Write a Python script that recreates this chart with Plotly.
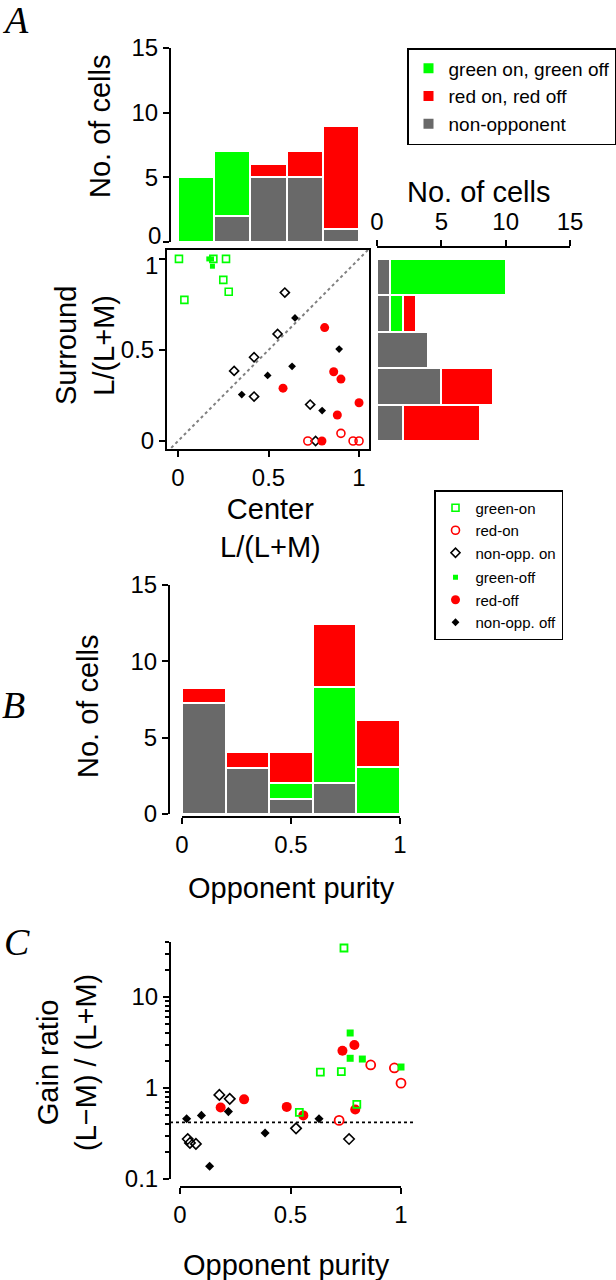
import plotly.graph_objects as go

# ---------------- data ----------------
bin_centers = [0.1, 0.3, 0.5, 0.7, 0.9]
bin_width = 0.2

# Panel A, top histogram (center L/(L+M))
topA_gray = [0, 2, 5, 5, 1]
topA_green = [5, 5, 0, 0, 0]
topA_red = [0, 0, 1, 2, 8]

# Panel A, right histogram (surround L/(L+M)), bins from 0-0.2 up to 0.8-1
rightA_gray = [2, 5, 4, 1, 1]
rightA_green = [0, 0, 0, 1, 9]
rightA_red = [6, 4, 0, 1, 0]

# Panel A scatter (center, surround)
a_green_on_x = [0.005, 0.035, 0.195, 0.265, 0.25, 0.28]
a_green_on_y = [1.0, 0.775, 1.0, 1.0, 0.885, 0.82]
a_green_off_x = [0.17, 0.185, 0.19]
a_green_off_y = [1.0, 1.0, 0.96]
a_red_on_x = [0.717, 0.90, 0.967, 1.0]
a_red_on_y = [0.0, 0.042, 0.0, 0.0]
a_red_off_x = [0.81, 0.58, 0.86, 0.90, 1.0, 0.88, 0.795]
a_red_off_y = [0.623, 0.29, 0.38, 0.34, 0.21, 0.143, 0.0]
a_non_on_x = [0.59, 0.55, 0.42, 0.31, 0.42, 0.73, 0.76]
a_non_on_y = [0.815, 0.588, 0.46, 0.385, 0.244, 0.2, 0.0]
a_non_off_x = [0.646, 0.89, 0.63, 0.495, 0.352, 0.796]
a_non_off_y = [0.676, 0.505, 0.41, 0.36, 0.255, 0.167]

# Panel B histogram (opponent purity)
B_gray = [7.25, 3.0, 1.0, 2.0, 0]
B_green = [0, 0, 1.0, 6.3, 3.05]
B_red = [1.0, 1.05, 2.05, 4.15, 3.1]

# Panel C scatter (opponent purity, gain ratio)
c_non_off_x = [0.03, 0.097, 0.134, 0.219, 0.385, 0.629]
c_non_off_y = [0.46, 0.50, 0.138, 0.55, 0.32, 0.46]
c_non_on_x = [0.035, 0.045, 0.072, 0.178, 0.225, 0.525, 0.765]
c_non_on_y = [0.275, 0.249, 0.243, 0.84, 0.76, 0.36, 0.275]
c_red_off_x = [0.184, 0.29, 0.483, 0.558, 0.735, 0.789, 0.793]
c_red_off_y = [0.61, 0.75, 0.62, 0.50, 2.57, 2.97, 0.58]
c_red_on_x = [0.72, 0.863, 0.97, 1.0]
c_red_on_y = [0.44, 1.79, 1.66, 1.13]
c_green_on_x = [0.742, 0.635, 0.73, 0.54, 0.80]
c_green_on_y = [34.5, 1.49, 1.51, 0.54, 0.66]
c_green_off_x = [0.77, 0.77, 0.825, 1.0]
c_green_off_y = [4.02, 2.12, 2.08, 1.70]
c_reference_level = 0.42

count_ticks = [0, 5, 10, 15]
unit_ticks = [0, 0.5, 1]
unit_ticktext = ["0", "0.5", "1"]

# ---------------- styling ----------------
W, H = 616, 1280
GREEN = "#00ff00"
RED = "#ff0000"
GRAY = "#696969"
FONT = "Liberation Sans, Arial, Helvetica, sans-serif"
SERIF = "Liberation Serif, Times New Roman, serif"
TICKF = dict(family=FONT, size=24, color="black")


def X(px):
    return px / W


def Y(py):
    return 1 - py / H


fig = go.Figure()

bar_line = dict(color="white", width=2)

# top histogram A (x, y)
for name, vals, col, rank in [("non-opponent", topA_gray, GRAY, 3),
                              ("green on, green off", topA_green, GREEN, 1),
                              ("red on, red off", topA_red, RED, 2)]:
    fig.add_trace(go.Bar(x=bin_centers, y=vals, width=bin_width, name=name,
                         marker=dict(color=col, line=bar_line),
                         xaxis="x", yaxis="y", legend="legend",
                         legendrank=rank, showlegend=True, legendgroup=name))

# right histogram A (x3, y3)
for name, vals, col in [("non-opponent", rightA_gray, GRAY),
                        ("green on, green off", rightA_green, GREEN),
                        ("red on, red off", rightA_red, RED)]:
    fig.add_trace(go.Bar(y=bin_centers, x=vals, width=bin_width, orientation="h",
                         name=name, marker=dict(color=col, line=bar_line),
                         xaxis="x3", yaxis="y3", showlegend=False, legendgroup=name))

# panel B histogram (x4, y4)
for name, vals, col in [("non-opponent", B_gray, GRAY),
                        ("green on, green off", B_green, GREEN),
                        ("red on, red off", B_red, RED)]:
    fig.add_trace(go.Bar(x=bin_centers, y=vals, width=bin_width, name=name,
                         marker=dict(color=col, line=bar_line),
                         xaxis="x4", yaxis="y4", showlegend=False, legendgroup=name))

# scatter A (x2, y2)
a_specs = [
    ("non-opp. off", a_non_off_x, a_non_off_y, dict(symbol="diamond", size=6, color="black"), 6, "off"),
    ("non-opp. on", a_non_on_x, a_non_on_y,
     dict(symbol="diamond-open", size=7, color="black", line=dict(width=1.6)), 3, "on"),
    ("red-off", a_red_off_x, a_red_off_y, dict(symbol="circle", size=9, color=RED), 5, "off"),
    ("red-on", a_red_on_x, a_red_on_y,
     dict(symbol="circle-open", size=8, color=RED, line=dict(width=1.6)), 2, "on"),
    ("green-on", a_green_on_x, a_green_on_y,
     dict(symbol="square-open", size=7, color=GREEN, line=dict(width=1.6)), 1, "on"),
    ("green-off", a_green_off_x, a_green_off_y, dict(symbol="square", size=5, color=GREEN), 4, "off"),
]
for name, xs, ys, mk, rank, grp in a_specs:
    fig.add_trace(go.Scatter(x=xs, y=ys, mode="markers", name=name, marker=mk,
                             xaxis="x2", yaxis="y2", legend="legend2",
                             legendrank=rank, legendgroup=grp, showlegend=True,
                             cliponaxis=False))

# scatter C (x5, y5)
c_specs = [
    (c_non_off_x, c_non_off_y, dict(symbol="diamond", size=7, color="black")),
    (c_non_on_x, c_non_on_y, dict(symbol="diamond-open", size=8, color="black", line=dict(width=1.6))),
    (c_red_off_x, c_red_off_y, dict(symbol="circle", size=10, color=RED)),
    (c_red_on_x, c_red_on_y, dict(symbol="circle-open", size=9, color=RED, line=dict(width=1.8))),
    (c_green_off_x, c_green_off_y, dict(symbol="square", size=7, color=GREEN)),
    (c_green_on_x, c_green_on_y, dict(symbol="square-open", size=7, color=GREEN, line=dict(width=1.8))),
]
for xs, ys, mk in c_specs:
    fig.add_trace(go.Scatter(x=xs, y=ys, mode="markers", marker=mk,
                             xaxis="x5", yaxis="y5", showlegend=False, cliponaxis=False))

axis_common = dict(showline=True, linecolor="black", linewidth=2, ticks="outside",
                   tickcolor="black", tickwidth=2, ticklen=6, tickfont=TICKF,
                   showgrid=False, zeroline=False, automargin=False)

a_xrange = [-0.061, 1.055]
a_yrange = [-0.044, 1.049]

# the two crowded labels (top-hist "0" and scatter "1") are nudged apart, as in the figure
top_ticktext = [""] + [str(v) for v in count_ticks[1:]]
scatter_y_ticktext = unit_ticktext[:-1] + [""]

fig.update_layout(
    template="none",
    width=W, height=H, margin=dict(l=0, r=0, t=0, b=0, pad=0, autoexpand=False),
    paper_bgcolor="white", plot_bgcolor="rgba(0,0,0,0)",
    barmode="stack", bargap=0,
    font=dict(family=FONT, color="black"),
    # top histogram
    xaxis=dict(domain=[X(178), X(359)], range=[0, 1], visible=False, anchor="y",
               automargin=False),
    yaxis=dict(domain=[Y(242), Y(48)], range=[0, 15], anchor="free", position=X(170),
               tickvals=count_ticks, ticktext=top_ticktext, **axis_common),
    # scatter A
    xaxis2=dict(domain=[X(167), X(369)], range=a_xrange, anchor="y2", mirror=True,
                tickvals=unit_ticks, ticktext=unit_ticktext, **axis_common),
    yaxis2=dict(domain=[Y(449), Y(250)], range=a_yrange, anchor="x2", mirror=True,
                tickvals=unit_ticks, ticktext=scatter_y_ticktext, **axis_common),
    # right histogram
    xaxis3=dict(domain=[X(377), X(570)], range=[0, 15], side="top", anchor="free",
                position=Y(247), tickvals=count_ticks, **axis_common),
    yaxis3=dict(domain=[Y(449), Y(250)], range=a_yrange, visible=False, anchor="x3",
                automargin=False),
    # panel B
    xaxis4=dict(domain=[X(182), X(400)], range=[0, 1], anchor="free", position=Y(817),
                tickvals=unit_ticks, ticktext=unit_ticktext, **axis_common),
    yaxis4=dict(domain=[Y(814), Y(585)], range=[0, 15], anchor="free", position=X(169),
                tickvals=count_ticks, **axis_common),
    # panel C
    xaxis5=dict(domain=[X(180), X(401)], range=[0, 1], anchor="free", position=Y(1187),
                tickvals=unit_ticks, ticktext=unit_ticktext, **axis_common),
    yaxis5=dict(domain=[Y(1179), Y(942)], type="log", range=[-1, 1.604], anchor="free",
                position=X(170), tickvals=[0.1, 1, 10], ticktext=["0.1", "1", "10"],
                minor=dict(ticks="outside", ticklen=4, tickcolor="black", tickwidth=1.5,
                           tickvals=[0.2, 0.3, 0.4, 0.5, 0.6, 0.7, 0.8, 0.9,
                                     2, 3, 4, 5, 6, 7, 8, 9, 20, 30, 40],
                           showgrid=False),
                **axis_common),
    legend=dict(x=X(407), y=Y(48), xanchor="left", yanchor="top",
                bordercolor="black", borderwidth=1.5, bgcolor="white",
                font=dict(family=FONT, size=19, color="black"),
                traceorder="normal", itemwidth=30),
    legend2=dict(x=X(434), y=Y(490), xanchor="left", yanchor="top",
                 bordercolor="black", borderwidth=1.5, bgcolor="white",
                 font=dict(family=FONT, size=15, color="black"),
                 traceorder="grouped", tracegroupgap=2, itemwidth=30),
)

# reference lines
fig.add_shape(type="line", xref="x2", yref="y2", x0=a_xrange[0], y0=a_xrange[0],
              x1=a_yrange[1], y1=a_yrange[1],
              line=dict(color="#808080", width=2, dash="dot"), layer="below")
fig.add_shape(type="line", xref="paper", yref="y5", x0=X(170), x1=X(413),
              y0=c_reference_level, y1=c_reference_level,
              line=dict(color="black", width=1.8, dash="dot"), layer="below")

TITLEF = dict(family=FONT, size=29, color="black")


def ann(text, px, py, angle=0, font=TITLEF, xanchor="center", yanchor="middle"):
    fig.add_annotation(text=text, x=X(px), y=Y(py), xref="paper", yref="paper",
                       showarrow=False, textangle=angle, font=font,
                       xanchor=xanchor, yanchor=yanchor)


# nudged tick labels
ann(str(count_ticks[0]), 163, 236, font=TICKF, xanchor="right")
ann(unit_ticktext[-1], 160, 265, font=TICKF, xanchor="right")

ann("No. of cells", 100, 127, -90)
ann("No. of cells", 478, 192)
ann("Surround<br>L/(L+M)", 85, 346, -90)
ann("Center<br>L/(L+M)", 270, 528)
ann("No. of cells", 88, 707, -90)
ann("Opponent purity", 291, 888)
ann("Gain ratio<br>(L\u2212M) / (L+M)", 67, 1063, -90)
ann("Opponent purity", 286, 1265)

PANELF = dict(family=SERIF, size=38, color="black")
ann("<i>A</i>", 0, 20, font=PANELF, xanchor="left")
ann("<i>B</i>", 0, 705, font=PANELF, xanchor="left")
ann("<i>C</i>", 2, 942, font=PANELF, xanchor="left")

fig.write_html("out.html", config={"displayModeBar": False},
               post_script="document.body.style.margin='0px';")
